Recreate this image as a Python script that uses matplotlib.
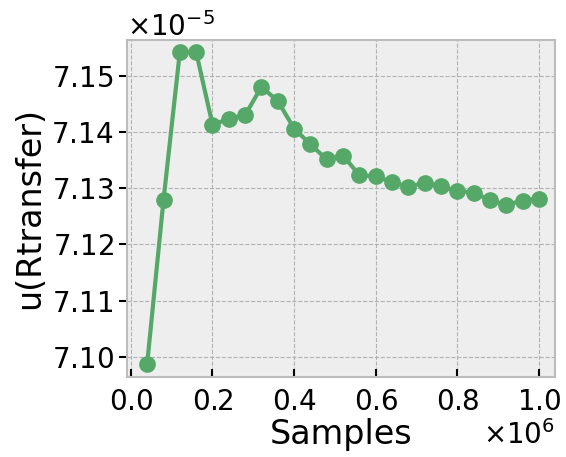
import numpy as np
import matplotlib
matplotlib.use("Agg")
import matplotlib.pyplot as plt

# samples (x 1e6) and u(Rtransfer) (x 1e-5)
samples = np.arange(1, 26) * 0.04e6
u_rtransfer = np.array([
    7.0988, 7.1279, 7.1542, 7.1542, 7.1413, 7.1423, 7.1430, 7.1480, 7.1455,
    7.1406, 7.1378, 7.1351, 7.1358, 7.1323, 7.1321, 7.1311, 7.1302, 7.1310,
    7.1303, 7.1295, 7.1292, 7.1279, 7.1270, 7.1278, 7.1281]) * 1e-5

plt.rcParams['font.family'] = ['DejaVu Sans']
plt.rcParams['mathtext.fontset'] = 'dejavusans'
plt.rcParams['axes.formatter.use_mathtext'] = True

fig = plt.figure(figsize=(5.66, 4.57), dpi=100)
ax = fig.add_axes([0.224, 0.176, 0.757, 0.736])
ax.set_facecolor('#eeeeee')
for sp in ax.spines.values():
    sp.set_color('#bcbcbc')
    sp.set_linewidth(1.5)

ax.plot(samples, u_rtransfer, '-o', color='#55a868', lw=3, ms=11, zorder=3)

ax.grid(True, color='#b2b2b2', linestyle='--', linewidth=0.8)
ax.set_axisbelow(True)

ax.set_xlim(-0.01e6, 1.04e6)
ax.set_ylim(7.0965e-5, 7.1563e-5)
ax.set_xticks(np.arange(0, 1.01, 0.2) * 1e6)
ax.set_yticks(np.arange(7.10, 7.1501, 0.01) * 1e-5)

ax.tick_params(axis='x', direction='in', length=6, width=1.5, labelsize=20, pad=8)
ax.tick_params(axis='y', direction='out', length=6, width=1.5, labelsize=20)
ax.xaxis.get_offset_text().set_fontsize(20)
ax.yaxis.get_offset_text().set_fontsize(20)

ax.set_xlabel('Samples', fontsize=24, labelpad=2)
ax.set_ylabel('u(Rtransfer)', fontsize=24)

fig.savefig('out.png', dpi=100)
